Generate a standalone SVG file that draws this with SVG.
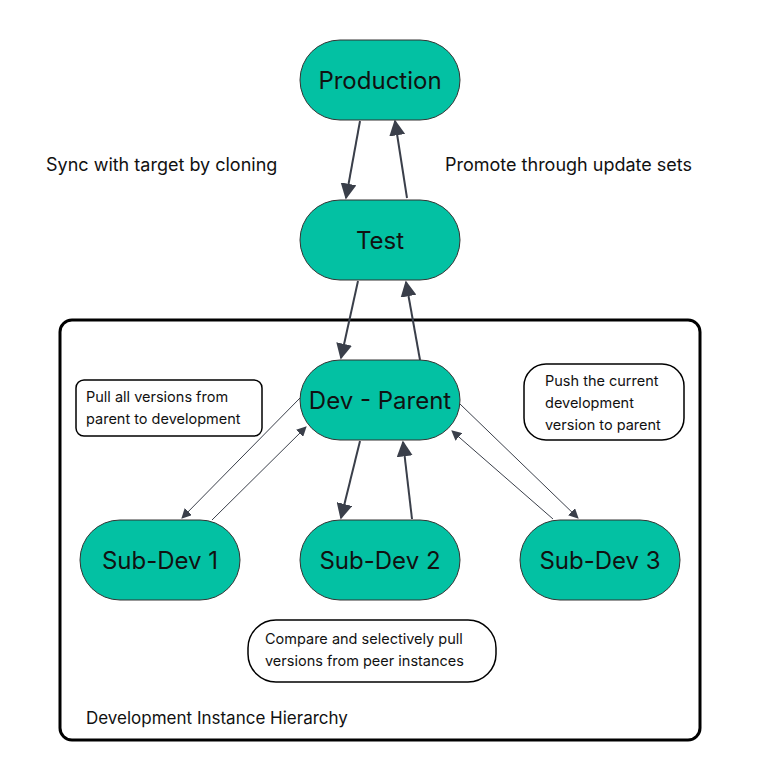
<svg xmlns="http://www.w3.org/2000/svg" width="765" height="780" viewBox="0 0 765 780">
<style>
text{font-family:Inter,"Liberation Sans",sans-serif;fill:#111}
.n rect{fill:#03C1A3;stroke:#333;stroke-width:1}
.n text{font-size:24px;text-anchor:middle;dominant-baseline:central}
.note{fill:#fff;stroke:#000;stroke-width:1.5}
.s{font-size:14.5px}
.l{font-size:18px}
.c line{stroke:#3a3f4a;fill:none}
</style>
<defs>
<marker id="a" viewBox="0 0 10 10" refX="9" refY="5" markerWidth="10" markerHeight="10" markerUnits="userSpaceOnUse" orient="auto"><path d="M0,0L10,5L0,10z" fill="#3a3f4a"/></marker>
<marker id="b" viewBox="0 0 10 10" refX="9" refY="5" markerWidth="16" markerHeight="16" markerUnits="userSpaceOnUse" orient="auto"><path d="M0,0L10,5L0,10z" fill="#3a3f4a"/></marker>
</defs>
<rect x="60" y="320" width="640" height="420" rx="12" fill="none" stroke="#000" stroke-width="3"/>
<text x="86" y="724" style="font-size:17px">Development Instance Hierarchy</text>
<g class="c">
<line x1="360" y1="121" x2="346" y2="198" stroke-width="2" marker-end="url(#b)"/>
<line x1="407" y1="198" x2="395" y2="121" stroke-width="2" marker-end="url(#b)"/>
<line x1="358" y1="281" x2="341" y2="358" stroke-width="2" marker-end="url(#b)"/>
<line x1="420" y1="360" x2="406" y2="282" stroke-width="2" marker-end="url(#b)"/>
<line x1="300" y1="398" x2="182" y2="518" stroke-width="1" marker-end="url(#a)"/>
<line x1="212" y1="520" x2="306" y2="427" stroke-width="1" marker-end="url(#a)"/>
<line x1="360" y1="441" x2="341" y2="518" stroke-width="2" marker-end="url(#b)"/>
<line x1="412" y1="519" x2="403" y2="442" stroke-width="2" marker-end="url(#b)"/>
<line x1="553" y1="519" x2="452" y2="431" stroke-width="1" marker-end="url(#a)"/>
<line x1="460" y1="404" x2="578" y2="518" stroke-width="1" marker-end="url(#a)"/>
</g>
<g id="production" class="n"><rect x="300" y="40" width="160" height="80" rx="40"/><text x="380" y="80">Production</text></g>
<g id="test" class="n"><rect x="300" y="200" width="160" height="80" rx="40"/><text x="380" y="240">Test</text></g>
<g id="dev-parent" class="n"><rect x="300" y="360" width="160" height="80" rx="40"/><text x="380" y="400">Dev - Parent</text></g>
<g id="sub-dev-1" class="n"><rect x="80" y="520" width="160" height="80" rx="40"/><text x="160" y="560">Sub-Dev 1</text></g>
<g id="sub-dev-2" class="n"><rect x="300" y="520" width="160" height="80" rx="40"/><text x="380" y="560">Sub-Dev 2</text></g>
<g id="sub-dev-3" class="n"><rect x="520" y="520" width="160" height="80" rx="40"/><text x="600" y="560">Sub-Dev 3</text></g>
<text class="l" x="46" y="171">Sync with target by cloning</text>
<text class="l" x="445" y="171">Promote through update sets</text>
<g id="note-pull"><rect class="note" x="76" y="380" width="186" height="56" rx="8"/><text class="s" x="86" y="402">Pull all versions from</text><text class="s" x="86" y="424">parent to development</text></g>
<g id="note-push"><rect class="note" x="524" y="364" width="160" height="76" rx="22"/><text class="s" x="545" y="386">Push the current</text><text class="s" x="545" y="408">development</text><text class="s" x="545" y="430">version to parent</text></g>
<g id="note-compare"><rect class="note" x="248" y="620" width="248" height="62" rx="28"/><text class="s" x="265" y="644">Compare and selectively pull</text><text class="s" x="265" y="666">versions from peer instances</text></g>
</svg>
